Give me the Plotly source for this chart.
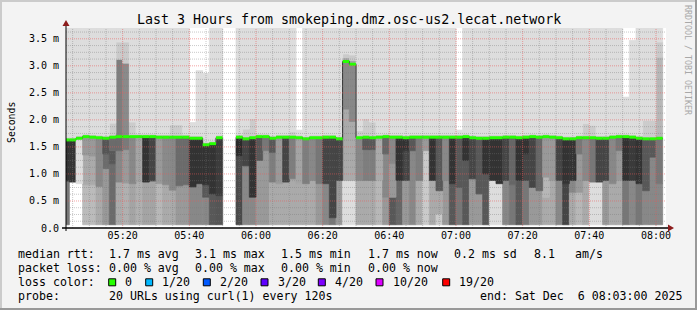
import plotly.graph_objects as go
from datetime import datetime, timedelta

# ---------------- data ----------------
title_text = "Last 3 Hours from smokeping.dmz.osc-us2.lecat.network"
range_start = datetime(2025, 12, 6, 5, 3)
range_end = datetime(2025, 12, 6, 8, 3)
first_step = datetime(2025, 12, 6, 5, 2)   # start of first 2-minute step
step_minutes = 2
x_tick_labels = ["05:20", "05:40", "06:00", "06:20", "06:40", "07:00", "07:20", "07:40", "08:00"]
y_tick_vals = [0, 0.5, 1.0, 1.5, 2.0, 2.5, 3.0, 3.5]
y_tick_text = ["0.0", "0.5 m", "1.0 m", "1.5 m", "2.0 m", "2.5 m", "3.0 m", "3.5 m"]
y_max = 3.70

# median rtt per step (ms)
median = [1.63, 1.63, 1.66, 1.69, 1.68, 1.67, 1.66, 1.68, 1.69, 1.69,
          1.69, 1.69, 1.69, 1.69, 1.68, 1.68, 1.68, 1.68, 1.68, 1.66,
          1.66, 1.54, 1.56, 1.67, None, None, 1.68, 1.65, 1.67, 1.69,
          1.69, 1.66, 1.68, 1.68, 1.68, 1.67, 1.65, 1.67, 1.67, 1.68,
          1.68, 1.65, 3.08, 3.03, 1.67, 1.68, 1.67, 1.68, 1.69, 1.68,
          1.68, 1.67, 1.68, 1.68, 1.68, 1.68, 1.68, 1.68, 1.68, 1.68,
          1.69, 1.67, 1.66, 1.66, 1.67, 1.67, 1.68, 1.68, 1.67, 1.68,
          1.69, 1.68, 1.69, 1.68, 1.67, 1.65, 1.65, 1.67, 1.67, 1.67,
          1.66, 1.66, 1.68, 1.69, 1.69, 1.68, 1.66, 1.65, 1.65, 1.66]

# smoke bands (ms) and their gray levels
smoke_min = [0.06, 0.85, 0.82, 0.06, 0.06, 0.06, 0.06, 0.06, 0.06, 0.06,
             0.06, 0.06, 0.06, 0.06, 0.06, 0.06, 0.06, 0.06, 0.06, 0.06,
             0.06, 0.06, 0.06, 0.06, None, None, 0.06, 0.06, 0.06, 0.06,
             0.06, 0.06, 0.06, 0.06, 0.06, 0.06, 0.06, 0.06, 0.06, 0.06,
             0.06, 0.06, 0.06, 0.06, 0.06, 0.06, 0.06, 0.06, 0.06, 0.06,
             0.06, 0.06, 0.06, 0.06, 0.06, 0.06, 0.06, 0.06, 0.06, 0.06,
             0.06, 0.06, 0.06, 0.06, 0.06, 0.06, 0.06, 0.06, 0.06, 0.06,
             0.06, 0.06, 0.06, 0.06, 0.06, 0.06, 0.06, 0.06, 0.06, 0.06,
             0.06, 0.06, 0.06, 0.06, 0.06, 0.06, 0.06, 0.06, 0.06, 0.06]

a_top = [0.87, 0.85, 0.82, 0.80, 0.80, 0.77, 1.10, 1.19, 0.85, 0.83,
         0.82, 0.85, 0.85, 0.87, 0.82, 0.80, 0.70, 0.78, 0.80, 0.76,
         0.82, 0.57, 0.63, 0.60, None, None, 1.34, 1.15, 0.57, 1.25,
         1.43, 0.85, 0.82, 0.85, 0.91, 0.82, 0.82, 0.88, 0.82, 0.82,
         0.19, 0.88, 0.88, 0.88, 0.88, 0.88, 0.88, 0.88, 0.57, 0.57,
         0.88, 0.88, 1.43, 0.88, 1.43, 0.88, 0.26, 0.88, 0.82, 0.75,
         1.25, 0.91, 0.63, 1.00, 0.88, 0.82, 0.88, 0.80, 0.88, 0.88,
         0.75, 0.69, 0.57, 0.88, 0.88, 0.82, 0.66, 0.66, 0.88, 0.85,
         0.85, 0.88, 0.82, 0.88, 0.88, 0.88, 0.82, 0.69, 1.31, 0.82]
a_shade = [119, 255, 221, 187, 187, 170, 153, 107, 170, 176,
           164, 176, 164, 164, 183, 170, 170, 153, 153, 136,
           136, 136, 88, 85, None, None, 74, 136, 136, 153,
           153, 170, 170, 170, 170, 170, 170, 170, 153, 136,
           119, 153, 221, 221, 170, 170, 170, 183, 153, 88,
           102, 153, 136, 170, 202, 170, 202, 153, 88, 119,
           88, 153, 153, 88, 221, 221, 136, 119, 88, 119,
           153, 153, 170, 170, 136, 69, 170, 183, 170, 221,
           221, 153, 170, 170, 119, 136, 119, 136, 136, 136]

b_top = [0.87, 0.85, 0.82, 1.35, 1.33, 0.77, 1.37, 1.43, 1.43, 1.45,
         0.82, 0.85, 0.85, 0.87, 0.82, 0.80, 0.70, 0.78, 0.80, 0.76,
         0.82, 0.80, 0.63, 0.60, None, None, 1.34, 1.15, 0.57, 1.25,
         1.43, 1.40, 0.82, 0.85, 0.91, 0.82, 0.82, 0.88, 0.82, 0.82,
         0.19, 0.88, 2.20, 1.97, 0.88, 1.45, 1.45, 0.88, 1.37, 1.19,
         0.88, 1.43, 1.43, 0.88, 1.43, 0.88, 0.69, 0.88, 0.82, 0.75,
         1.25, 0.91, 0.63, 1.00, 0.88, 0.82, 0.88, 0.80, 0.88, 1.37,
         0.75, 0.69, 0.94, 0.88, 0.88, 0.82, 0.88, 1.37, 0.88, 0.85,
         0.85, 0.88, 0.82, 1.43, 0.88, 0.88, 0.82, 0.69, 1.31, 0.82]
b_shade = [255, 255, 255, 170, 170, 255, 107, 88, 136, 154,
           255, 255, 255, 255, 255, 255, 255, 255, 255, 255,
           255, 88, 255, 255, None, None, 255, 255, 255, 255,
           255, 126, 255, 255, 255, 255, 255, 255, 255, 255,
           255, 255, 170, 170, 255, 126, 126, 255, 136, 153,
           255, 69, 255, 255, 255, 255, 170, 255, 255, 255,
           255, 255, 255, 255, 255, 255, 255, 255, 255, 69,
           255, 255, 183, 255, 255, 255, 136, 153, 255, 255,
           255, 255, 255, 153, 255, 255, 255, 255, 255, 255]

c_shade = [51, 51, 221, 153, 153, 136, 85, 107, 107, 122,
           136, 164, 51, 69, 153, 138, 136, 107, 107, 51,
           51, 51, 51, 60, None, None, 42, 69, 51, 88,
           119, 88, 153, 69, 126, 164, 126, 136, 119, 69,
           69, 69, 136, 136, 136, 88, 88, 170, 102, 136,
           51, 51, 88, 126, 153, 51, 88, 136, 51, 88,
           51, 69, 88, 51, 51, 51, 69, 102, 51, 51,
           69, 102, 153, 153, 69, 51, 51, 119, 136, 119,
           69, 69, 136, 119, 51, 58, 51, 88, 88, 119]

u1_top = [1.68, 1.68, 1.71, 1.74, 1.73, 1.72, 1.71, 1.73, 3.12, 3.05,
          1.74, 1.74, 1.74, 1.74, 1.73, 1.73, 1.73, 1.73, 1.73, 1.71,
          1.71, 1.59, 1.61, 1.72, None, None, 1.73, 1.70, 1.72, 1.74,
          1.74, 1.71, 1.73, 1.73, 1.73, 1.72, 1.70, 1.72, 1.72, 1.73,
          1.73, 1.70, 3.15, 3.10, 1.72, 1.73, 1.72, 1.73, 1.74, 1.73,
          1.73, 1.72, 1.73, 1.73, 1.73, 1.73, 1.73, 1.73, 1.73, 1.73,
          1.74, 1.72, 1.71, 1.71, 1.72, 1.72, 1.73, 1.73, 1.72, 1.73,
          1.74, 1.73, 1.74, 1.73, 1.72, 1.70, 1.70, 1.72, 1.72, 1.72,
          1.71, 1.71, 1.73, 1.74, 1.74, 1.73, 1.71, 1.70, 1.70, 3.16]
u1_shade = [202, 202, 202, 202, 202, 202, 202, 202, 126, 138,
            202, 202, 202, 202, 202, 202, 202, 202, 202, 202,
            202, 202, 202, 202, None, None, 202, 202, 202, 202,
            202, 202, 202, 202, 202, 202, 202, 202, 202, 202,
            202, 202, 170, 164, 202, 202, 202, 202, 202, 202,
            202, 202, 202, 202, 202, 202, 202, 202, 202, 202,
            202, 202, 202, 202, 202, 202, 202, 202, 202, 202,
            202, 202, 202, 202, 202, 202, 202, 202, 202, 202,
            202, 202, 202, 202, 202, 202, 202, 202, 202, 183]

u2_top = [1.68, 1.68, 1.71, 1.74, 1.73, 1.72, 1.71, 1.94, 3.44, 3.44,
          1.96, 1.74, 1.74, 1.74, 1.73, 1.73, 1.91, 1.91, 1.73, 1.71,
          1.71, 1.59, 1.61, 1.72, None, None, 1.73, 1.83, 2.02, 1.74,
          1.74, 1.71, 1.73, 1.73, 1.78, 1.72, 1.70, 1.72, 1.72, 1.73,
          1.73, 1.70, 3.22, 3.20, 1.80, 2.02, 1.96, 1.73, 1.74, 1.73,
          1.73, 1.72, 1.73, 1.73, 1.73, 1.73, 1.73, 1.73, 1.73, 1.73,
          1.74, 1.72, 1.71, 1.71, 1.72, 1.72, 1.73, 1.73, 1.72, 1.73,
          1.74, 1.73, 1.74, 1.73, 1.72, 1.70, 1.70, 1.72, 1.93, 1.90,
          1.71, 1.71, 1.73, 1.74, 1.74, 1.73, 1.71, 1.99, 1.99, 3.44]
u2_shade = [204, 204, 204, 204, 204, 204, 204, 204, 202, 202,
            204, 204, 204, 204, 204, 204, 204, 204, 204, 204,
            204, 204, 204, 204, None, None, 204, 204, 204, 204,
            204, 204, 204, 204, 204, 204, 204, 204, 204, 204,
            204, 204, 202, 202, 204, 204, 204, 204, 204, 204,
            204, 204, 204, 204, 204, 204, 204, 204, 204, 204,
            204, 204, 204, 204, 204, 204, 204, 204, 204, 204,
            204, 204, 204, 204, 204, 204, 204, 204, 204, 204,
            204, 204, 204, 204, 204, 204, 204, 204, 204, 202]

smoke_max = [4.0, 4.0, 4.0, 4.0, 4.0, 4.0, 4.0, 4.0, 4.0, 4.0,
             4.0, 4.0, 4.0, 4.0, 4.0, 4.0, 4.0, 4.0, 4.0, 1.95,
             2.91, 2.86, 4.0, 4.0, None, None, 4.0, 4.0, 4.0, 4.0,
             4.0, 4.0, 4.0, 4.0, 4.0, 1.81, 4.0, 4.0, 4.0, 4.0,
             4.0, 4.0, 4.0, 4.0, 4.0, 4.0, 4.0, 4.0, 4.0, 4.0,
             4.0, 4.0, 4.0, 4.0, 4.0, 4.0, 4.0, 4.0, 4.0, 1.81,
             4.0, 4.0, 4.0, 4.0, 4.0, 4.0, 4.0, 4.0, 4.0, 4.0,
             4.0, 4.0, 4.0, 4.0, 4.0, 4.0, 4.0, 4.0, 4.0, 4.0,
             4.0, 4.0, 4.0, 4.0, 2.42, 3.47, 4.0, 4.0, 4.0, 4.0]
outer_shade = 221

# legend texts
stat_rows = [
    ["median rtt:", "1.7 ms avg", "3.1 ms max", "1.5 ms min", "1.7 ms now", "0.2 ms sd", "8.1", "am/s"],
    ["packet loss:", "0.00 % avg", "0.00 % max", "0.00 % min", "0.00 % now"],
]
loss_labels = ["0", "1/20", "2/20", "3/20", "4/20", "10/20", "19/20"]
loss_colors = ["#26ff00", "#00b8ff", "#0059ff", "#5e00ff", "#7e00ff", "#dd00ff", "#ff0000"]
probe_text = "20 URLs using curl(1) every 120s"
end_text = "end: Sat Dec  6 08:03:00 2025"
side_text = "RRDTOOL / TOBI OETIKER"

# ---------------- layout geometry (pixels) ----------------
W, H = 697, 310
PL, PT, PW, PH = 66, 28, 600, 200
MONO = "DejaVu Sans Mono"


def fx(px):
    return (px - PL) / PW


def fy(py):
    return (PT + PH - py) / PH


n = len(median)
step = timedelta(minutes=step_minutes)
starts = [first_step + step * j for j in range(n)]
centers = [s + step / 2 for s in starts]
width_ms = step_minutes * 60 * 1000


def gray(g):
    return f"rgb({g},{g},{g})"


def band(bottoms, tops, shades):
    xs, bs, hs, cs = [], [], [], []
    for j in range(n):
        if median[j] is None:
            continue
        b, t = bottoms[j], tops[j]
        if t - b <= 1e-9:
            continue
        xs.append(centers[j])
        bs.append(b)
        hs.append(t - b)
        cs.append(gray(shades[j] if isinstance(shades, list) else shades))
    return go.Bar(x=xs, y=hs, base=bs, width=[width_ms] * len(xs),
                  marker=dict(color=cs, line=dict(width=0.8, color=cs)),
                  hoverinfo="skip", showlegend=False)


fig = go.Figure()
fig.add_trace(band(smoke_min, a_top, a_shade))
fig.add_trace(band(a_top, b_top, b_shade))
fig.add_trace(band(b_top, median, c_shade))
fig.add_trace(band(median, u1_top, u1_shade))
fig.add_trace(band(u1_top, u2_top, u2_shade))
fig.add_trace(band(u2_top, smoke_max, outer_shade))

# dark median step line
step_x = starts + [starts[-1] + step]
step_y = median + [median[-1]]
fig.add_trace(go.Scatter(x=step_x, y=step_y, mode="lines", line=dict(color="#202020", width=1, shape="hv"),
                         hoverinfo="skip", showlegend=False, connectgaps=False))
# green (0 loss) median segments
gx, gy = [], []
for j in range(n):
    if median[j] is None:
        continue
    gx += [starts[j], starts[j] + step, None]
    gy += [median[j], median[j], None]
fig.add_trace(go.Scatter(x=gx, y=gy, mode="lines", line=dict(color=loss_colors[0], width=3),
                         hoverinfo="skip", showlegend=False))

shapes = []
# grid lines above the smoke
t = range_start.replace(minute=0)
while t <= range_end:
    if range_start < t < range_end:
        major = (t.minute % 20 == 0)
        shapes.append(dict(type="line", xref="x", yref="paper", x0=t, x1=t, y0=0, y1=1, layer="above",
                           line=dict(color="rgba(235,90,90,0.55)" if major else "rgba(120,120,120,0.4)",
                                     width=1, dash="1px,1px")))
    t += timedelta(minutes=5)
k = 1
while k * 0.125 < y_max:
    v = k * 0.125
    major = (k % 4 == 0)
    shapes.append(dict(type="line", xref="paper", yref="y", x0=0, x1=1, y0=v, y1=v, layer="above",
                       line=dict(color="rgba(235,90,90,0.55)" if major else "rgba(120,120,120,0.4)",
                                 width=1, dash="1px,1px")))
    k += 1

# axes lines and arrows
shapes.append(dict(type="line", xref="paper", yref="paper", x0=fx(62), x1=fx(670), y0=fy(228), y1=fy(228),
                   line=dict(color="#000000", width=1.5), layer="above"))
shapes.append(dict(type="line", xref="paper", yref="paper", x0=fx(66), x1=fx(66), y0=fy(231), y1=fy(24),
                   line=dict(color="#000000", width=1), layer="above"))
arrow_col = "#8c1c1c"
shapes.append(dict(type="path", xref="paper", yref="paper", layer="above",
                   path=f"M {fx(62.5)} {fy(26)} L {fx(69.5)} {fy(26)} L {fx(66)} {fy(20)} Z",
                   fillcolor=arrow_col, line=dict(width=0)))
shapes.append(dict(type="path", xref="paper", yref="paper", layer="above",
                   path=f"M {fx(668)} {fy(224.5)} L {fx(668)} {fy(231.5)} L {fx(674)} {fy(228)} Z",
                   fillcolor=arrow_col, line=dict(width=0)))

# image frame
shapes.append(dict(type="rect", xref="paper", yref="paper", x0=fx(0), x1=fx(W), y0=fy(0), y1=fy(2),
                   fillcolor="#cbcbcb", line=dict(width=0), layer="below"))
shapes.append(dict(type="rect", xref="paper", yref="paper", x0=fx(0), x1=fx(2), y0=fy(0), y1=fy(H),
                   fillcolor="#cbcbcb", line=dict(width=0), layer="below"))
shapes.append(dict(type="rect", xref="paper", yref="paper", x0=fx(0), x1=fx(W), y0=fy(H - 2), y1=fy(H),
                   fillcolor="#999999", line=dict(width=0), layer="below"))
shapes.append(dict(type="rect", xref="paper", yref="paper", x0=fx(W - 2), x1=fx(W), y0=fy(0), y1=fy(H),
                   fillcolor="#999999", line=dict(width=0), layer="below"))

annotations = []


def txt(text, px, py, size=11.6, anchor="left", angle=0, color="#000000", family=MONO):
    annotations.append(dict(text=text.replace(" ", "\u00a0"), x=fx(px), y=fy(py), xref="paper", yref="paper",
                            xanchor=anchor, yanchor="middle", showarrow=False, textangle=angle,
                            font=dict(family=family, size=size, color=color)))


txt(title_text, 348.5, 19, size=13.3, anchor="center")
txt("Seconds", 11, 123, size=9.8, anchor="center", angle=-90)
txt(side_text, 688, 60, size=8.3, anchor="center", angle=90, color="#a8a8a8")

stat_x = [16, 107.3, 193.3, 279.3, 365.7, 451.7, 531.7, 572.7]
for r, row in enumerate(stat_rows):
    for i, s in enumerate(row):
        txt(s, stat_x[i], 254.3 + 14 * r)

txt("loss color:", 16, 282.3)
box_x = [108.7, 145.7, 203.3, 261, 318.3, 376, 442.7]
for i, (lab, col) in enumerate(zip(loss_labels, loss_colors)):
    shapes.append(dict(type="rect", xref="paper", yref="paper", x0=fx(box_x[i]), x1=fx(box_x[i] + 7),
                       y0=fy(278.8), y1=fy(285.8), fillcolor=col, line=dict(color="#000000", width=1)))
    txt(lab, box_x[i] + 14.6, 282.3)

txt("probe:", 16, 296)
txt(probe_text, 107.3, 296)
txt(end_text, 478.3, 296)

day = range_start.date()
x_tick_vals = [datetime.combine(day, datetime.strptime(s, "%H:%M").time()) for s in x_tick_labels]

fig.update_layout(
    width=W, height=H, autosize=False,
    margin=dict(l=PL, r=W - PL - PW, t=PT, b=H - PT - PH, pad=0),
    paper_bgcolor="#f3f3f3", plot_bgcolor="#ffffff",
    barmode="overlay", bargap=0,
    showlegend=False,
    shapes=shapes, annotations=annotations,
    xaxis=dict(type="date", range=[range_start, range_end], showgrid=False, zeroline=False, showline=False,
               tickvals=x_tick_vals, ticktext=x_tick_labels, ticks="",
               tickfont=dict(family=MONO, size=10, color="#000000"),
               fixedrange=True),
    yaxis=dict(range=[0, y_max], showgrid=False, zeroline=False, showline=False,
               tickvals=y_tick_vals, ticktext=y_tick_text, ticks="outside", ticklen=4,
               tickcolor="rgba(0,0,0,0)", tickfont=dict(family=MONO, size=10, color="#000000"),
               fixedrange=True),
)

fig.write_html("out.html", config={"displayModeBar": False, "staticPlot": True})
